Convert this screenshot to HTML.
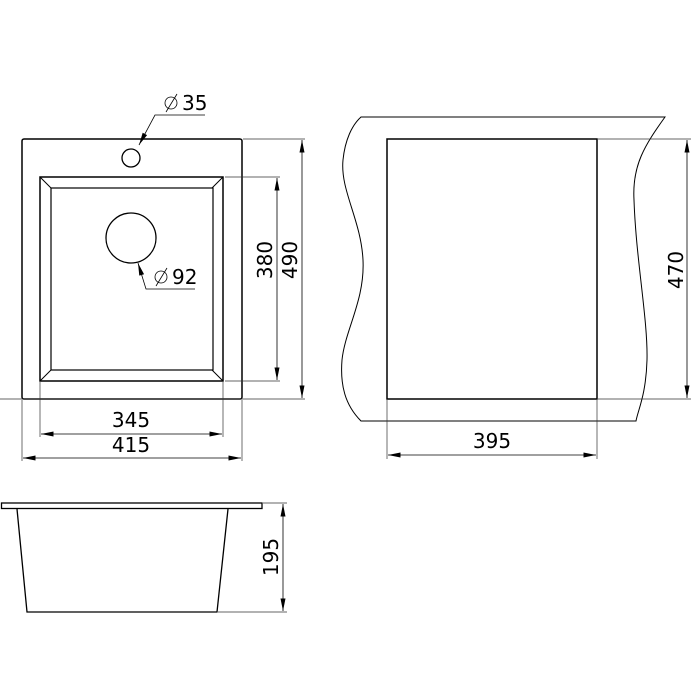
<!DOCTYPE html>
<html><head><style>html,body{margin:0;padding:0;background:#fff}svg{display:block}</style></head>
<body>
<svg width="700" height="700" viewBox="0 0 700 700" xmlns="http://www.w3.org/2000/svg" font-family="'DejaVu Sans', 'Liberation Sans', sans-serif" font-size="20" fill="none" stroke="#000">
<defs>
<marker id="a" viewBox="0 0 10 4" refX="10" refY="2" markerWidth="14" markerHeight="5" markerUnits="userSpaceOnUse" orient="auto-start-reverse"><path d="M0,0 L10,2 L0,4 Z" fill="#000" stroke="none"/></marker>
</defs>
<rect x="22" y="139" width="220" height="260" rx="2" stroke-width="1.5"/>
<rect x="40" y="177" width="183" height="204" stroke-width="1.5"/>
<rect x="51" y="188" width="162" height="182" stroke-width="1.2"/>
<path d="M40 177 L51 188 M223 177 L212 188 M40 381 L51 370 M223 381 L212 370" stroke-width="1"/>
<circle cx="131" cy="158" r="9" stroke-width="1.3"/>
<circle cx="131" cy="238" r="25" stroke-width="1.3"/>
<path d="M205 115 H155 L139 145" stroke-width="0.8" marker-end="url(#a)"/>
<path d="M195 289 H146 L138 263" stroke-width="0.8" marker-end="url(#a)"/>
<g fill="#000" stroke="none">
<text x="182" y="110">35</text>
<text x="172" y="284">92</text>
</g>
<g stroke-width="0.8">
<circle cx="171" cy="103" r="6"/><path d="M166 112 L177 94"/>
<circle cx="161" cy="277" r="6"/><path d="M156 286 L167 268"/>
</g>
<g stroke-width="0.7" stroke="#333">
<path d="M225 177 H280 M225 381 H280 M243 139 H305 M0 399 H305"/>
<path d="M40 382 V437 M223 382 V437 M22 400 V461 M242 400 V461"/>
</g>
<g stroke-width="0.8">
<path d="M277 178 V380" marker-start="url(#a)" marker-end="url(#a)"/>
<path d="M302 140 V398" marker-start="url(#a)" marker-end="url(#a)"/>
<path d="M41 434 H222" marker-start="url(#a)" marker-end="url(#a)"/>
<path d="M23 458 H241" marker-start="url(#a)" marker-end="url(#a)"/>
</g>
<g fill="#000" stroke="none" text-anchor="middle">
<text x="131" y="427">345</text>
<text x="131" y="452">415</text>
<text transform="translate(272,260) rotate(-90)">380</text>
<text transform="translate(297,260) rotate(-90)">490</text>
</g>
<path d="M361 117 H665 C645 145 632 165 634 200 C636 260 648 320 647 360 C646 395 638 410 636 421 H361 C345 405 340 385 342 360 C345 330 365 300 363 260 C361 220 340 190 343 160 C345 140 352 125 361 117 Z" stroke-width="1"/>
<rect x="387" y="139" width="210" height="260" stroke-width="1.5"/>
<g stroke-width="0.7" stroke="#333">
<path d="M598 139 H691 M598 399 H691 M387 400 V459 M597 400 V459"/>
</g>
<g stroke-width="0.8">
<path d="M687 140 V398" marker-start="url(#a)" marker-end="url(#a)"/>
<path d="M388 455 H596" marker-start="url(#a)" marker-end="url(#a)"/>
</g>
<g fill="#000" stroke="none" text-anchor="middle">
<text x="492" y="448">395</text>
<text transform="translate(683,270) rotate(-90)">470</text>
</g>
<rect x="1.5" y="503" width="260.5" height="5.5" stroke-width="1.3"/>
<path d="M17 509 L27 612 H217 L228 509" stroke-width="1.3"/>
<g stroke-width="0.7" stroke="#333"><path d="M263 503 H287 M218 612 H287"/></g>
<path d="M283 504 V611" stroke-width="0.8" marker-start="url(#a)" marker-end="url(#a)"/>
<text transform="translate(278,557) rotate(-90)" fill="#000" stroke="none" text-anchor="middle">195</text>
</svg>
</body></html>
